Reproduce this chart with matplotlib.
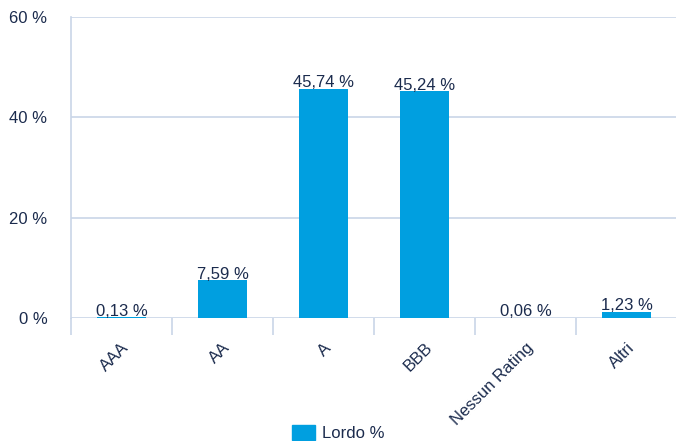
import matplotlib
matplotlib.use("Agg")
import matplotlib.pyplot as plt
from matplotlib.patches import Patch

categories = ["AAA", "AA", "A", "BBB", "Nessun Rating", "Altri"]
values = [0.13, 7.59, 45.74, 45.24, 0.06, 1.23]
yticks = [0, 20, 40, 60]
series_name = "Lordo %"

bar_color = "#009fe0"
grid_color = "#c9d5e8"
text_color = "#1b2b4d"

plt.rcParams["font.family"] = ["Liberation Sans", "DejaVu Sans"]

fig = plt.figure(figsize=(6.76, 4.41), dpi=100)
ax = fig.add_axes([71/676, 1 - 318/441, 606/676, 301/441])

x = list(range(len(categories)))
ax.bar(x, values, width=0.48, color=bar_color, zorder=3)
ax.set_xlim(-0.5, len(categories) - 0.5)
ax.set_ylim(0, 60)
ax.set_yticks(yticks)
ax.set_yticklabels([f"{t} %" for t in yticks], color=text_color, fontsize=12)
ax.yaxis.grid(True, color=grid_color, linewidth=1.2, zorder=0)
ax.tick_params(axis="y", length=0, pad=17)

for s in ["top", "right", "bottom"]:
    ax.spines[s].set_visible(False)
ax.spines["left"].set_color(grid_color)
ax.spines["left"].set_linewidth(1.2)

# category boundary ticks
ax.set_xticks([i - 0.5 for i in range(len(categories) + 1)], minor=False)
ax.set_xticklabels([])
ax.tick_params(axis="x", which="major", length=12, color=grid_color, width=1.2)
ax.set_xticks(x, minor=True)
ax.set_xticklabels(categories, minor=True, rotation=45, ha="right",
                   rotation_mode="anchor", color=text_color, fontsize=12)
ax.tick_params(axis="x", which="minor", length=0, pad=16)

for xi, v in zip(x, values):
    ax.annotate(f"{v:.2f} %".replace(".", ","), (xi, v), xytext=(0, 1),
                textcoords="offset points", ha="center", va="baseline",
                color=text_color, fontsize=12, zorder=4)

fig.legend(handles=[Patch(color=bar_color, label=series_name)],
           loc="lower center", bbox_to_anchor=(0.5, -0.035), frameon=False,
           fontsize=12, labelcolor=text_color, handlelength=1.4,
           handleheight=1.0, handletextpad=0.4)

fig.savefig("out.png", dpi=100)
